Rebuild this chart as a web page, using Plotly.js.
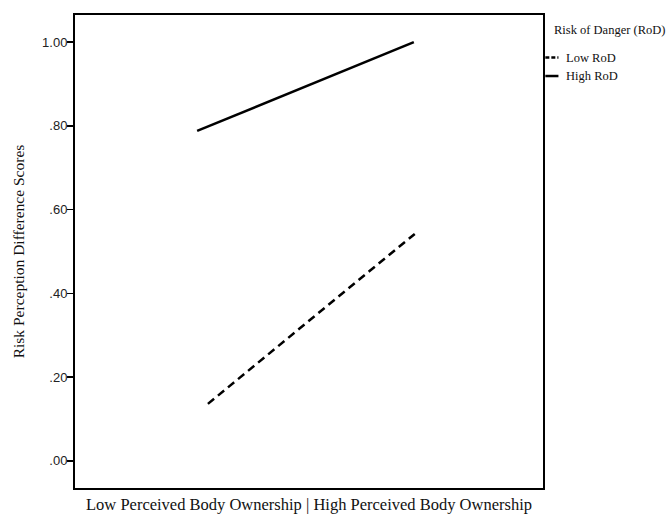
<!DOCTYPE html>
<html>
<head>
<meta charset="utf-8">
<script src="https://cdn.plot.ly/plotly-3.0.1.min.js"></script>
<style>html,body{margin:0;padding:0;background:#fff;}#chart{width:670px;height:514px;}</style>
</head>
<body>
<div id="chart"></div>
<script>
// Data
const seriesNames = ["Low RoD", "High RoD"];
const lowX = [0.284, 0.726];
const lowY = [0.136, 0.542];
const highX = [0.261, 0.724];
const highY = [0.788, 1.0];
const yTickVals = [0, 0.2, 0.4, 0.6, 0.8, 1.0];
const yTickText = [".00", ".20", ".40", ".60", ".80", "1.00"];
const xTitle = "Low Perceived Body Ownership | High Perceived Body Ownership";
const yTitle = "Risk Perception Difference Scores";
const legendTitle = "Risk of Danger (RoD)";

const serif = "Liberation Serif, Times New Roman, serif";
const lineStyles = [
  {color: "#000", width: 2.5, dash: "8px,5px"},
  {color: "#000", width: 2.5, dash: "solid"}
];
const traces = [
  {x: lowX, y: lowY, name: seriesNames[0], mode: "lines", line: lineStyles[0]},
  {x: highX, y: highY, name: seriesNames[1], mode: "lines", line: lineStyles[1]}
];

// Custom legend (positions in paper coordinates)
const legendItemY = [0.910, 0.871];
const annotations = [{
  xref: "paper", yref: "paper", x: 1.019, y: 0.968, xanchor: "left", yanchor: "middle",
  text: legendTitle, showarrow: false, font: {family: serif, size: 12.5, color: "#111"}
}];
const shapes = [];
seriesNames.forEach((n, i) => {
  annotations.push({
    xref: "paper", yref: "paper", x: 1.045, y: legendItemY[i], xanchor: "left", yanchor: "middle",
    text: n, showarrow: false, font: {family: serif, size: 12.5, color: "#111"}
  });
  shapes.push({
    type: "line", xref: "paper", yref: "paper", x0: 1.005, x1: 1.033,
    y0: legendItemY[i], y1: legendItemY[i],
    line: {color: "#000", width: 2.5, dash: i === 0 ? "4px,2px" : "solid"}
  });
});

const layout = {
  width: 670, height: 514,
  margin: {l: 75, r: 127, t: 15, b: 26},
  paper_bgcolor: "#fff", plot_bgcolor: "#fff",
  showlegend: false,
  annotations: annotations,
  shapes: shapes,
  xaxis: {
    range: [0, 1], showgrid: false, zeroline: false,
    showticklabels: false, ticks: "",
    showline: true, linecolor: "#000", linewidth: 2, mirror: true,
    title: {text: xTitle, font: {family: serif, size: 16.5, color: "#111"}, standoff: 9}
  },
  yaxis: {
    range: [-0.065, 1.065], showgrid: false, zeroline: false,
    tickvals: yTickVals, ticktext: yTickText,
    ticks: "outside", ticklen: 6, tickwidth: 1.5, tickcolor: "#000",
    ticklabelstandoff: -3,
    tickfont: {family: "Liberation Sans, Arial, sans-serif", size: 13, color: "#222"},
    showline: true, linecolor: "#000", linewidth: 2, mirror: true,
    title: {text: yTitle, font: {family: serif, size: 15.5, color: "#111"}, standoff: 14}
  }
};
Plotly.newPlot("chart", traces, layout, {displayModeBar: false, staticPlot: true});
</script>
</body>
</html>
